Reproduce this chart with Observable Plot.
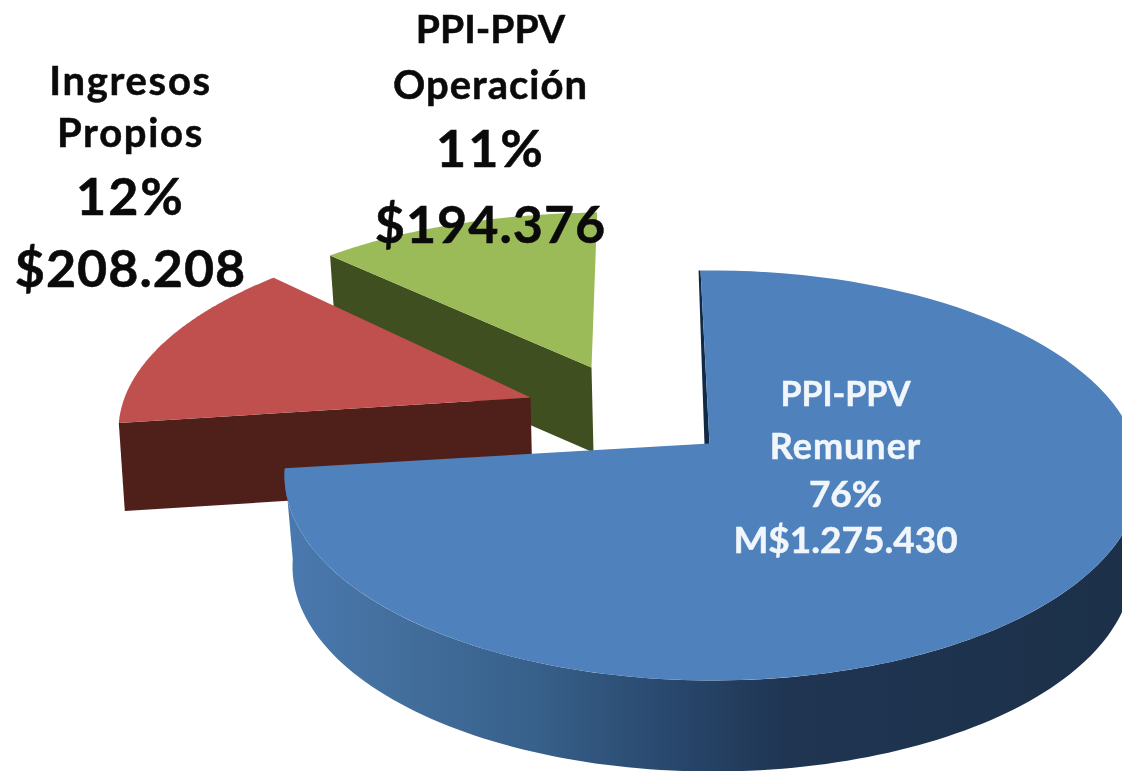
<!DOCTYPE html>
<html lang="es">
<head>
<meta charset="utf-8">
<script src="https://cdn.jsdelivr.net/npm/d3@7"></script>
<script src="https://cdn.jsdelivr.net/npm/@observablehq/plot@0.6"></script>
<style>
html,body{margin:0;padding:0;background:#fff;overflow:hidden}
svg{display:block;filter:blur(0.6px)}
</style>
</head>
<body>
<div id="chart"></div>
<script>
// ---- chart values ----
const categories = ["PPI-PPV Remuner", "Ingresos Propios", "PPI-PPV Operación"];
const amounts = [1275430, 208208, 194376];
const nameLines = [["PPI-PPV", "Remuner"], ["Ingresos", "Propios"], ["PPI-PPV", "Operación"]];
const percentLabels = ["76%", "12%", "11%"];
const amountLabels = ["M$1.275.430", "$208.208", "$194.376"];

// ---- drawing style (perspective view of the exploded pie) ----
const W = 1122, H = 771;
const startAngle = -1.6;
const topColors = ["#4f81bd", "#c0504d", "#9bbb59"];
const sideColors = ["url(#blueSide)", "#4f1f1a", "#3f4f20"];
const sliceShape = [
  {cx: 712, cy: 475, rx: 428, ry: 205, ax: 709, ay: 443, depth: 91, rxLow: 420},
  {cx: 612, cy: 430, rx: 494, ry: 210, ax: 530, ay: 397, depth: 88, rxLow: 484},
  {cx: 608, cy: 370, rx: 406, ry: 158, ax: 591, ay: 367, depth: 85, rxLow: 406}
];

const total = d3.sum(amounts);
let running = startAngle;
const spans = amounts.map(v => {
  const a0 = running;
  running += (v / total) * 360;
  return [a0, running];
});

const rim = (s, deg, low = false) => {
  const t = deg * Math.PI / 180;
  return {
    x: s.cx + (low ? s.rxLow : s.rx) * Math.sin(t),
    y: s.cy + (low ? s.depth : 0) - s.ry * Math.cos(t)
  };
};
const arc = (s, a0, a1, low = false) =>
  d3.range(0, 121).map(i => rim(s, a0 + (a1 - a0) * i / 120, low));

const topFace = (s, [a0, a1]) => [{x: s.ax, y: s.ay}, ...arc(s, a0, a1)];
const planeSide = (s, a) => {
  const p = rim(s, a);
  return [p, {x: s.ax, y: s.ay}, {x: s.ax + 2, y: s.ay + s.depth}, {x: p.x + 6, y: p.y + s.depth}];
};
const outerSide = (s, a0, a1) => [...arc(s, a0, a1), ...arc(s, a0, a1, true).reverse()];
const blueWall = s => {
  const p = rim(s, spans[0][0]);
  return [{x: p.x - 2, y: p.y}, {x: s.ax - 5, y: s.ay + 1}, {x: s.ax, y: s.ay + 1}, p];
};

const poly = (points, fill) => Plot.line(points, {x: "x", y: "y", fill, stroke: "none", curve: "linear", clip: true});

const gradient = () => {
  const svg = d3.create("svg:defs");
  const g = svg.append("linearGradient").attr("id", "blueSide")
    .attr("gradientUnits", "userSpaceOnUse")
    .attr("x1", 285).attr("x2", 1122).attr("y1", 0).attr("y2", 0);
  [[0, "#4a79b0"], [0.12, "#44709f"], [0.3, "#37608a"], [0.47, "#28466b"], [0.6, "#1f3552"], [1, "#1c3049"]]
    .forEach(([o, c]) => g.append("stop").attr("offset", o).attr("stop-color", c));
  return svg.node();
};

// ---- labels ----
const labelFont = "Lato, 'Open Sans', sans-serif";
const labelAt = [
  {x: 845, y: [395, 447, 495, 541], size: [34, 36, 37, 37], spacing: [0, 1, 0, 0], fill: "#f1f6fa"},
  {x: 130, y: [82, 134, 198, 270], size: [40, 40, 52, 52], spacing: [1.7, 1.7, 2, 1], fill: "#0a0a0a"},
  {x: 490, y: [30, 86, 150, 226], size: [39, 40, 52, 52], spacing: [0, 1, 2, 1], fill: "#0a0a0a"}
];
const labelRows = categories.flatMap((c, i) =>
  [...nameLines[i], percentLabels[i], amountLabels[i]].map((text, j) => ({
    text, x: labelAt[i].x, y: labelAt[i].y[j], size: labelAt[i].size[j],
    spacing: labelAt[i].spacing[j], fill: labelAt[i].fill
  }))
);

const [blue, red, green] = sliceShape;
const chart = Plot.plot({
  width: W,
  height: H,
  margin: 0,
  x: {domain: [0, W], axis: null},
  y: {domain: [H, 0], axis: null},
  style: {background: "#fff"},
  marks: [
    gradient,
    poly(planeSide(green, spans[2][0]), sideColors[2]),
    poly(topFace(green, spans[2]), topColors[2]),
    poly(planeSide(red, spans[1][0]), sideColors[1]),
    poly(topFace(red, spans[1]), topColors[1]),
    poly(outerSide(blue, 90, spans[0][1]), sideColors[0]),
    poly(blueWall(blue), "#102a45"),
    poly(topFace(blue, spans[0]), topColors[0]),
    Plot.text(labelRows, {
      x: "x", y: "y", text: "text", fontSize: "size", fill: d => d.fill,
      stroke: d => d.fill, strokeWidth: 0.5,
      fontFamily: labelFont, fontWeight: 700, textAnchor: "middle", lineAnchor: "middle",
      className: "pie-label"
    })
  ]
});
chart.querySelectorAll(".pie-label text").forEach((node, i) => {
  node.style.letterSpacing = labelRows[i].spacing + "px";
});
document.getElementById("chart").append(chart);
</script>
</body>
</html>
